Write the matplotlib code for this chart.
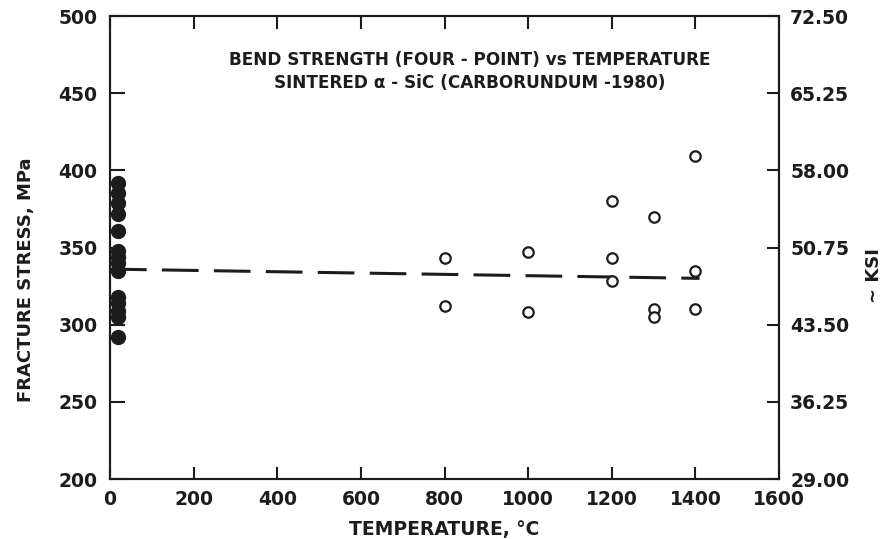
import numpy as np
import matplotlib
matplotlib.use('Agg')
import matplotlib.pyplot as plt
from matplotlib.ticker import FormatStrFormatter

# ==== DATA ====
# room temperature tests (filled dots)
rt_temp = [20] * 14
rt_stress = [392, 385, 379, 372, 361, 348, 344, 340, 335, 318, 314, 309, 305, 292]

# elevated temperature tests (open circles)
ht_temp = [800, 800, 1000, 1000, 1200, 1200, 1200, 1300, 1300, 1300, 1400, 1400, 1400]
ht_stress = [343, 312, 347, 308, 380, 343, 328, 370, 310, 305, 409, 335, 310]

# dashed mean line
line_temp = [0, 1410]
line_stress = [336, 330]

x_ticks = [0, 200, 400, 600, 800, 1000, 1200, 1400, 1600]
y_ticks = [200, 250, 300, 350, 400, 450, 500]
ksi_ticks = [29.00, 36.25, 43.50, 50.75, 58.00, 65.25, 72.50]
# ==========================

ink = '#1c1c1c'
plt.rcParams['font.family'] = ['DejaVu Sans']
plt.rcParams['font.weight'] = 'bold'
plt.rcParams['axes.labelweight'] = 'bold'

fig = plt.figure(figsize=(8.9, 5.39), dpi=100)
ax = fig.add_axes([0.1236, 0.1113, 0.7517, 0.8590])

ax.plot(line_temp, line_stress, color=ink, lw=2.2, dashes=(12, 5), zorder=2)
ax.plot(rt_temp, rt_stress, 'o', ms=10, color=ink, mec=ink, zorder=3)
ax.plot(ht_temp, ht_stress, 'o', ms=7.5, mfc='white', mec=ink, mew=1.6, zorder=3)

ax.set_xlim(0, 1600)
ax.set_ylim(200, 500)
ax.set_xticks(x_ticks)
ax.set_yticks(y_ticks)

for s in ax.spines.values():
    s.set_linewidth(1.5)
    s.set_color(ink)

ax.tick_params(axis='x', direction='in', length=9, width=1.5, color=ink,
               labelsize=13.5, pad=8, top=True, labelcolor=ink)
ax.tick_params(axis='y', direction='in', length=11, width=1.5, color=ink,
               labelsize=13.5, pad=9, labelcolor=ink)

ax.set_xlabel('TEMPERATURE, °C', fontsize=13.5, color=ink, labelpad=8)
ax.set_ylabel('FRACTURE STRESS, MPa', fontsize=13, color=ink)
ax.yaxis.set_label_coords(-0.112, 0.43)

ax2 = ax.twinx()
ax2.set_ylim(29.0, 72.5)
ax2.set_yticks(ksi_ticks)
ax2.yaxis.set_major_formatter(FormatStrFormatter('%.2f'))
ax2.tick_params(axis='y', direction='in', length=9, width=1.5, color=ink,
                labelsize=13.5, pad=8, labelcolor=ink)
for s in ax2.spines.values():
    s.set_linewidth(1.5)
    s.set_color(ink)
ax2.set_ylabel('∼ KSI', fontsize=13, color=ink)
ax2.yaxis.set_label_coords(1.128, 0.44)

ax.text(0.537, 0.905, 'BEND STRENGTH (FOUR - POINT) vs TEMPERATURE',
        transform=ax.transAxes, ha='center', va='center', fontsize=12.2, color=ink)
ax.text(0.537, 0.855, 'SINTERED α - SiC (CARBORUNDUM -1980)',
        transform=ax.transAxes, ha='center', va='center', fontsize=12.2, color=ink)

fig.savefig('out.png', dpi=100, facecolor='white')
